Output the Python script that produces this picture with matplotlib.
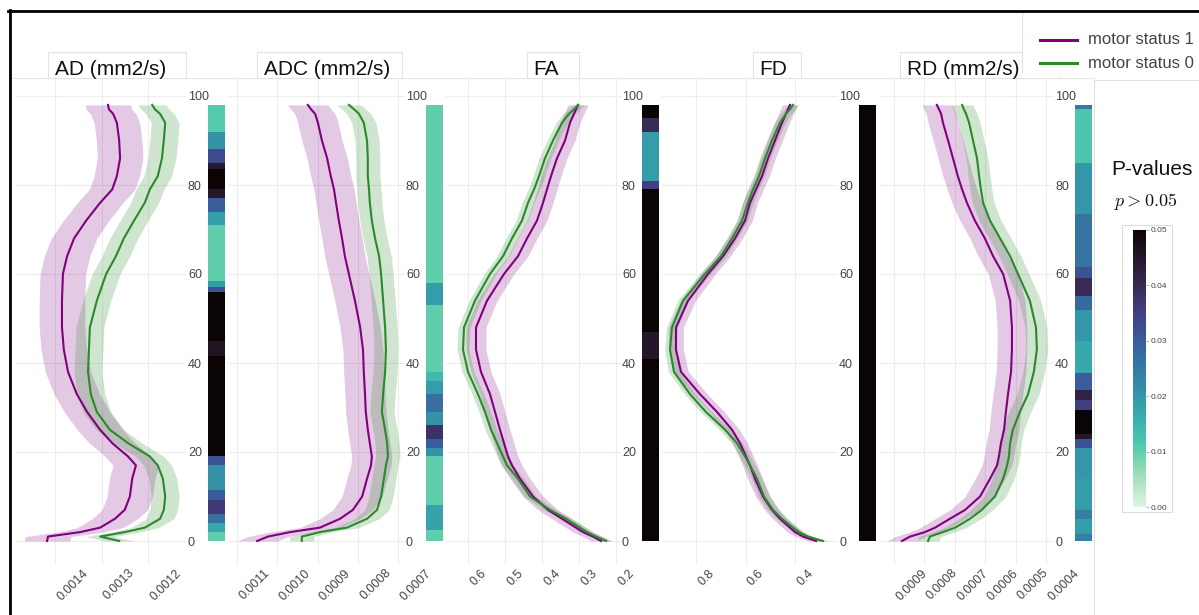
import numpy as np
import matplotlib
matplotlib.use("Agg")
import matplotlib.pyplot as plt
import seaborn as sns
from matplotlib.lines import Line2D
from matplotlib.patches import Rectangle
from matplotlib.transforms import ScaledTranslation
from matplotlib.colors import Normalize
from matplotlib.cm import ScalarMappable

plt.rcParams['font.family'] = ['Liberation Sans', 'DejaVu Sans']

# ---------------- data ----------------
POS = [0, 1, 2, 3, 5, 7, 10, 14, 17, 19, 22, 25, 29, 33, 38, 43, 48, 54, 60,
       64, 68, 72, 76, 79, 82, 86, 90, 94, 96, 97, 98]

ad_m1 = [0.001417, 0.001415, 0.001346, 0.001303, 0.001271, 0.001250, 0.001239,
         0.001234, 0.001226, 0.001243, 0.001277, 0.001303, 0.001331, 0.001353,
         0.001372, 0.001381, 0.001385, 0.001385, 0.001383, 0.001374, 0.001359,
         0.001333, 0.001303, 0.001277, 0.001267, 0.001260, 0.001262, 0.001267,
         0.001275, 0.001284, 0.001286]
ad_m0 = [0.001262, 0.001303, 0.001250, 0.001207, 0.001174, 0.001166, 0.001163,
         0.001168, 0.001179, 0.001196, 0.001243, 0.001282, 0.001310, 0.001323,
         0.001329, 0.001327, 0.001325, 0.001310, 0.001290, 0.001269, 0.001252,
         0.001230, 0.001207, 0.001196, 0.001179, 0.001170, 0.001166, 0.001163,
         0.001174, 0.001185, 0.001191]

adc_m1 = [0.001050, 0.001023, 0.000968, 0.000894, 0.000844, 0.000812, 0.000789,
          0.000777, 0.000767, 0.000765, 0.000770, 0.000775, 0.000780, 0.000782,
          0.000785, 0.000787, 0.000794, 0.000807, 0.000822, 0.000832, 0.000839,
          0.000847, 0.000854, 0.000859, 0.000867, 0.000876, 0.000889, 0.000899,
          0.000906, 0.000916, 0.000924]
adc_m0 = [0.000939, 0.000939, 0.000894, 0.000827, 0.000777, 0.000752, 0.000742,
          0.000735, 0.000730, 0.000725, 0.000727, 0.000732, 0.000740, 0.000737,
          0.000732, 0.000730, 0.000732, 0.000737, 0.000742, 0.000747, 0.000757,
          0.000765, 0.000770, 0.000772, 0.000775, 0.000775, 0.000777, 0.000785,
          0.000797, 0.000809, 0.000822]

fa_m1 = [0.2405, 0.2622, 0.2892, 0.3081, 0.3459, 0.3838, 0.4243, 0.4595, 0.4811,
         0.4919, 0.5027, 0.5135, 0.5270, 0.5405, 0.5649, 0.5784, 0.5784, 0.5486,
         0.5027, 0.4649, 0.4405, 0.4135, 0.3973, 0.3865, 0.3757, 0.3595, 0.3378,
         0.3243, 0.3135, 0.3081, 0.3027]
fa_m0 = [0.2270, 0.2541, 0.2784, 0.2973, 0.3351, 0.3784, 0.4324, 0.4649, 0.4946,
         0.5054, 0.5216, 0.5378, 0.5541, 0.5730, 0.6000, 0.6135, 0.6108, 0.5811,
         0.5405, 0.5054, 0.4811, 0.4541, 0.4378, 0.4216, 0.4081, 0.3919, 0.3703,
         0.3459, 0.3270, 0.3135, 0.3027]

fd_m1 = [0.3152, 0.3677, 0.4000, 0.4202, 0.4606, 0.4929, 0.5293, 0.5616, 0.5818,
         0.5980, 0.6222, 0.6545, 0.7152, 0.7838, 0.8606, 0.8808, 0.8808, 0.8323,
         0.7515, 0.6909, 0.6424, 0.6020, 0.5818, 0.5576, 0.5333, 0.5091, 0.4808,
         0.4525, 0.4364, 0.4283, 0.4202]
fd_m0 = [0.2869, 0.3475, 0.3838, 0.4081, 0.4525, 0.4889, 0.5253, 0.5535, 0.5818,
         0.6020, 0.6343, 0.6828, 0.7596, 0.8242, 0.8889, 0.9051, 0.8970, 0.8525,
         0.7636, 0.6990, 0.6545, 0.6141, 0.5899, 0.5697, 0.5455, 0.5212, 0.4929,
         0.4606, 0.4364, 0.4202, 0.4081]

rd_m1 = [0.000874, 0.000847, 0.000798, 0.000765, 0.000716, 0.000666, 0.000617,
         0.000584, 0.000561, 0.000555, 0.000548, 0.000538, 0.000532, 0.000525,
         0.000515, 0.000512, 0.000512, 0.000518, 0.000541, 0.000574, 0.000601,
         0.000634, 0.000660, 0.000676, 0.000690, 0.000706, 0.000722, 0.000739,
         0.000745, 0.000752, 0.000759]
rd_m0 = [0.000788, 0.000782, 0.000739, 0.000699, 0.000650, 0.000611, 0.000568,
         0.000541, 0.000528, 0.000522, 0.000518, 0.000509, 0.000486, 0.000459,
         0.000440, 0.000430, 0.000433, 0.000453, 0.000492, 0.000518, 0.000551,
         0.000584, 0.000607, 0.000614, 0.000620, 0.000627, 0.000640, 0.000653,
         0.000663, 0.000670, 0.000676]

# half-widths of the shaded bands
ad_hw = (0.000049, 0.000030)
adc_hw = (0.000050, 0.000030)
fa_hw = (0.027, 0.016)
fd_hw = (0.030, 0.022)
rd_hw = (0.000049, 0.000036)

# p-value strips (run edges along position, p-value per run)
ad_p_edges = [0, 2, 4, 6, 9.3, 11.5, 17, 19, 41.5, 45, 56, 57, 58.5, 71, 74, 77,
              79, 83.5, 85, 88, 92, 98]
ad_p = [0.010, 0.017, 0.027, 0.036, 0.030, 0.021, 0.032, 0.050, 0.046, 0.050,
        0.032, 0.019, 0.010, 0.019, 0.030, 0.045, 0.050, 0.044, 0.033, 0.021,
        0.011]
adc_p_edges = [0, 2.5, 8, 19, 21, 23, 26, 29, 33, 36, 38, 53, 58, 98]
adc_p = [0.010, 0.018, 0.010, 0.021, 0.030, 0.038, 0.021, 0.027, 0.019, 0.014,
         0.010, 0.019, 0.010]
fa_p_edges = [0, 41, 47, 79, 81, 92, 95, 98]
fa_p = [0.050, 0.045, 0.050, 0.035, 0.019, 0.040, 0.050]
fd_p_edges = [0, 98]
fd_p = [0.050]
rd_p_edges = [0, 1.5, 5, 7, 14, 21, 23, 24, 29.5, 31.7, 34, 37.7, 45, 52, 55,
              59, 61.5, 73.5, 85, 97, 98]
rd_p = [0.024, 0.019, 0.024, 0.019, 0.020, 0.032, 0.045, 0.050, 0.035, 0.042,
        0.030, 0.017, 0.020, 0.028, 0.040, 0.032, 0.026, 0.020, 0.012, 0.025]

titles = ['AD (mm2/s)', 'ADC (mm2/s)', 'FA', 'FD', 'RD (mm2/s)']
ad_ticks = [0.0014, 0.0013, 0.0012]
adc_ticks = [0.0011, 0.0010, 0.0009, 0.0008, 0.0007]
fa_ticks = [0.6, 0.5, 0.4, 0.3, 0.2]
fd_ticks = [0.8, 0.6, 0.4]
rd_ticks = [0.0009, 0.0008, 0.0007, 0.0006, 0.0005, 0.0004]
ad_labels = ['0.0014', '0.0013', '0.0012']
adc_labels = ['0.0011', '0.0010', '0.0009', '0.0008', '0.0007']
fa_labels = ['0.6', '0.5', '0.4', '0.3', '0.2']
fd_labels = ['0.8', '0.6', '0.4']
rd_labels = ['0.0009', '0.0008', '0.0007', '0.0006', '0.0005', '0.0004']
y_ticks = [0, 20, 40, 60, 80, 100]
legend_labels = ['motor status 1', 'motor status 0']

# ---------------- layout ----------------
W, H = 1199, 615
fig = plt.figure(figsize=(W / 100, H / 100), dpi=100)
fig.patch.set_facecolor('white')

C1 = '#800080'
C0 = '#2a8a2a'
GRID = '#ededed'
TXT = '#444444'
cmap = sns.color_palette('mako_r', as_cmap=True)
norm = Normalize(0, 0.05)

Y0, Y100 = 541, 96       # pixel rows of position 0 and 100
AX_T, AX_B = 78, 565


def ypos(py):
    return (Y0 - py) / ((Y0 - Y100) / 100.0)


def add_ax(l, t, r, b, z=1):
    return fig.add_axes([l / W, 1 - b / H, (r - l) / W, (b - t) / H], zorder=z)


def fx(px):
    return px / W


def fy(py):
    return 1 - py / H


panels = [
    dict(m1=ad_m1, m0=ad_m0, hw=ad_hw, ticks=ad_ticks, labels=ad_labels,
         anchor=(0.0014, 55, 0.0012, 148), LR=(15, 186), strip=208,
         pe=ad_p_edges, p=ad_p, box=(48, 186), tx=55),
    dict(m1=adc_m1, m0=adc_m0, hw=adc_hw, ticks=adc_ticks, labels=adc_labels,
         anchor=(0.0011, 237, 0.0007, 398), LR=(228, 405), strip=426,
         pe=adc_p_edges, p=adc_p, box=(257, 402), tx=264),
    dict(m1=fa_m1, m0=fa_m0, hw=fa_hw, ticks=fa_ticks, labels=fa_labels,
         anchor=(0.6, 468, 0.2, 616), LR=(446, 621), strip=642,
         pe=fa_p_edges, p=fa_p, box=(527, 579), tx=533),
    dict(m1=fd_m1, m0=fd_m0, hw=fd_hw, ticks=fd_ticks, labels=fd_labels,
         anchor=(0.8, 696, 0.4, 795), LR=(662, 838), strip=859,
         pe=fd_p_edges, p=fd_p, box=(753, 801), tx=759),
    dict(m1=rd_m1, m0=rd_m0, hw=rd_hw, ticks=rd_ticks, labels=rd_labels,
         anchor=(0.0009, 894, 0.0004, 1046), LR=(880, 1054), strip=1075,
         pe=rd_p_edges, p=rd_p, box=(900, 1060), tx=907),
]

# faint top line of plotting area
fig.add_artist(Line2D([fx(11), fx(1094)], [fy(77.5), fy(77.5)], color='#e6e6e6', lw=0.8, zorder=0))

pos = np.array(POS, dtype=float)
for i, pnl in enumerate(panels):
    L, R = pnl['LR']
    av, apx, bv, bpx = pnl['anchor']
    slope = (bv - av) / (bpx - apx)
    ax = add_ax(L, AX_T, R, AX_B)
    ax.set_facecolor('none')
    ax.set_xlim(av + (L - apx) * slope, av + (R - apx) * slope)
    ax.set_ylim(ypos(AX_B), ypos(AX_T))
    for s in ax.spines.values():
        s.set_visible(False)
    ax.set_yticks(y_ticks)
    ax.set_yticklabels([])
    ax.set_xticks(pnl['ticks'])
    ax.set_xticklabels(pnl['labels'], rotation=45, ha='left', va='top',
                       fontsize=9, color=TXT)
    off = ScaledTranslation(-6 / 100, 0, fig.dpi_scale_trans)
    for lab in ax.get_xticklabels():
        lab.set_transform(lab.get_transform() + off)
    ax.tick_params(length=0, pad=1.5)
    ax.grid(True, color=GRID, lw=0.8)
    ax.set_axisbelow(True)

    m1 = np.array(pnl['m1'])
    m0 = np.array(pnl['m0'])
    h1, h0 = pnl['hw']
    ax.fill_betweenx(pos, m1 - h1, m1 + h1, color=C1, alpha=0.21, lw=0)
    ax.fill_betweenx(pos, m0 - h0, m0 + h0, color=C0, alpha=0.22, lw=0)
    ax.plot(m1, pos, color=C1, lw=1.5)
    ax.plot(m0, pos, color=C0, lw=1.5)

    # p-value strip
    sl = pnl['strip']
    sax = add_ax(sl, AX_T, sl + 17, AX_B, z=2)
    sax.set_ylim(ypos(AX_B), ypos(AX_T))
    sax.set_xlim(0, 1)
    sax.pcolormesh([0, 1], pnl['pe'], np.array(pnl['p'])[:, None], cmap=cmap,
                   norm=norm, shading='flat')
    for s in sax.spines.values():
        s.set_visible(False)
    sax.set_xticks([])
    sax.set_yticks(y_ticks)
    sax.set_yticklabels([str(t) for t in y_ticks], fontsize=9, color=TXT, ha='left')
    sax.tick_params(axis='y', length=0, pad=14.4)
    sax.patch.set_alpha(0)

    # title box
    bl, br = pnl['box']
    fig.add_artist(Rectangle((fx(bl), fy(78)), (br - bl) / W, 26 / H,
                             facecolor='white', edgecolor='#e3e3e3', lw=0.8, zorder=3))
    fig.text(fx(pnl['tx']), fy(75), titles[i], fontsize=15, color='#111111',
             ha='left', va='baseline', zorder=4)

# legend box
fig.add_artist(Rectangle((fx(1022), fy(76)), (1199 - 1022) / W, 64 / H,
                         facecolor='white', edgecolor='none', zorder=5))
fig.add_artist(Line2D([fx(1022), fx(1022)], [fy(12), fy(72)], color='#e3e3e3', lw=0.8, zorder=6))
for yy, col, lab in [(40, C1, legend_labels[0]), (63, C0, legend_labels[1])]:
    fig.add_artist(Line2D([fx(1040), fx(1077)], [fy(yy), fy(yy)], color=col, lw=2.2, zorder=6))
    fig.text(fx(1088), fy(yy), lab, fontsize=12, color=TXT, ha='left', va='center', zorder=6)

# colorbar panel
fig.add_artist(Line2D([fx(1094), fx(1094)], [fy(80), fy(615)], color='#e0e0e0', lw=0.8, zorder=6))
fig.add_artist(Line2D([fx(1094), fx(1199)], [fy(80), fy(80)], color='#e0e0e0', lw=0.8, zorder=6))
fig.text(fx(1152), fy(170), 'P-values', fontsize=15, color='#111111', ha='center', va='center')
fig.text(fx(1146), fy(202), r'$p > 0.05$', fontsize=13, color='#111111', ha='center',
         va='center', math_fontfamily='cm')
fig.add_artist(Rectangle((fx(1122), fy(512)), 50 / W, 287 / H, facecolor='white',
                         edgecolor='#dddddd', lw=0.8, zorder=6))
cax = add_ax(1133, 230, 1146, 507, z=7)
cb = fig.colorbar(ScalarMappable(norm=norm, cmap=cmap), cax=cax)
cb.set_ticks([0, 0.01, 0.02, 0.03, 0.04, 0.05])
cb.set_ticklabels(['0.00', '0.01', '0.02', '0.03', '0.04', '0.05'])
cb.outline.set_visible(False)
cax.tick_params(labelsize=6, length=2, color='#aaaaaa', labelcolor=TXT, pad=1, width=0.6)

# black frame
fig.add_artist(Line2D([fx(8), fx(1199)], [fy(10.5), fy(10.5)], color='black', lw=2.0, zorder=10))
fig.add_artist(Line2D([fx(9.5), fx(9.5)], [fy(10), fy(615)], color='black', lw=2.0, zorder=10))

fig.savefig('out.png', dpi=100)
